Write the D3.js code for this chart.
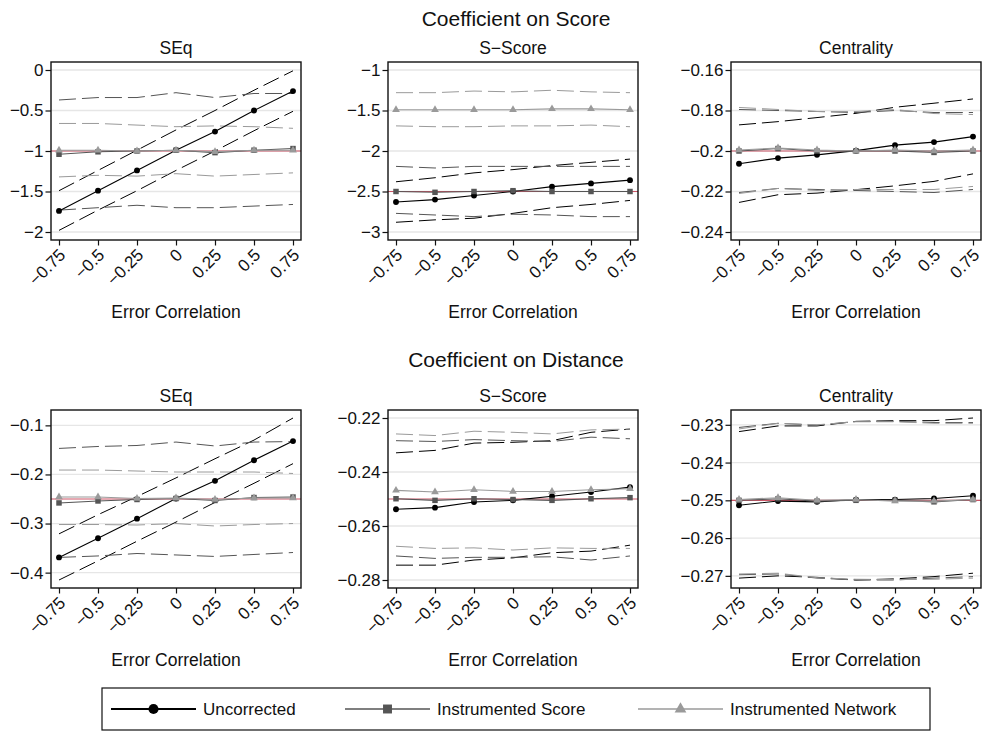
<!DOCTYPE html>
<html>
<head>
<meta charset="utf-8">
<script src="https://cdn.jsdelivr.net/npm/d3@7"></script>
<style>
  body { margin: 0; background: #fff; }
  svg { font-family: "Liberation Sans", Arial, Helvetica, sans-serif; }
</style>
</head>
<body>
<div id="chart"></div>
<script>
// Simulated coefficient estimates against the error correlation.
// Each panel array holds 9 rows, always in this order:
//   uncorrected, its lower bound, its upper bound,
//   instrumented score, lower, upper,
//   instrumented network, lower, upper

var errorCorr = [-0.75, -0.5, -0.25, 0, 0.25, 0.5, 0.75];

var seriesNames = ["Uncorrected", "Instrumented Score", "Instrumented Network"];

var rowTitles = ["Coefficient on Score", "Coefficient on Distance"];
var panelTitles = ["SEq", "S\u2212Score", "Centrality"];

var scoreSEq = [
  [-1.74, -1.49, -1.24, -0.99, -0.76, -0.50, -0.26],
  [-1.98, -1.73, -1.49, -1.24, -1.00, -0.75, -0.51],
  [-1.49, -1.24, -0.99, -0.74, -0.50, -0.25, -0.01],
  [-1.04, -1.01, -1.00, -0.99, -1.02, -0.99, -0.97],
  [-1.73, -1.70, -1.67, -1.70, -1.70, -1.68, -1.66],
  [-0.37, -0.34, -0.34, -0.28, -0.34, -0.29, -0.29],
  [-0.99, -0.99, -1.00, -0.99, -1.01, -0.99, -0.99],
  [-1.32, -1.30, -1.31, -1.28, -1.31, -1.29, -1.27],
  [-0.66, -0.66, -0.68, -0.70, -0.69, -0.70, -0.72]
];

var scoreSScore = [
  [-2.63, -2.60, -2.55, -2.50, -2.44, -2.40, -2.36],
  [-2.88, -2.85, -2.83, -2.77, -2.70, -2.66, -2.61],
  [-2.38, -2.33, -2.27, -2.23, -2.18, -2.14, -2.10],
  [-2.50, -2.51, -2.50, -2.49, -2.50, -2.50, -2.50],
  [-2.77, -2.79, -2.81, -2.78, -2.79, -2.81, -2.81],
  [-2.19, -2.21, -2.19, -2.19, -2.19, -2.19, -2.19],
  [-1.49, -1.49, -1.49, -1.49, -1.48, -1.48, -1.49],
  [-1.69, -1.70, -1.70, -1.69, -1.69, -1.68, -1.70],
  [-1.28, -1.28, -1.26, -1.27, -1.25, -1.27, -1.28]
];

var scoreCentrality = [
  [-0.2063, -0.2035, -0.2019, -0.1998, -0.1971, -0.1956, -0.1929],
  [-0.2254, -0.2216, -0.2208, -0.2191, -0.2172, -0.2150, -0.2113],
  [-0.1871, -0.1855, -0.1835, -0.1814, -0.1784, -0.1764, -0.1743],
  [-0.2000, -0.1988, -0.2000, -0.2000, -0.2000, -0.2007, -0.2000],
  [-0.2205, -0.2185, -0.2190, -0.2195, -0.2200, -0.2205, -0.2190],
  [-0.1795, -0.1800, -0.1805, -0.1810, -0.1800, -0.1810, -0.1810],
  [-0.1995, -0.1985, -0.1995, -0.2000, -0.1995, -0.2000, -0.1995],
  [-0.2210, -0.2185, -0.2195, -0.2190, -0.2190, -0.2190, -0.2175],
  [-0.1785, -0.1795, -0.1805, -0.1805, -0.1795, -0.1815, -0.1820]
];

var distSEq = [
  [-0.369, -0.330, -0.290, -0.249, -0.213, -0.171, -0.132],
  [-0.415, -0.376, -0.336, -0.297, -0.257, -0.218, -0.178],
  [-0.321, -0.282, -0.245, -0.207, -0.168, -0.130, -0.085],
  [-0.258, -0.254, -0.251, -0.249, -0.253, -0.247, -0.246],
  [-0.369, -0.366, -0.361, -0.364, -0.367, -0.363, -0.359],
  [-0.147, -0.143, -0.141, -0.134, -0.142, -0.134, -0.133],
  [-0.246, -0.246, -0.249, -0.248, -0.251, -0.248, -0.248],
  [-0.302, -0.302, -0.303, -0.300, -0.305, -0.302, -0.300],
  [-0.191, -0.191, -0.193, -0.195, -0.195, -0.195, -0.198]
];

var distSScore = [
  [-0.2538, -0.2532, -0.2511, -0.2505, -0.2490, -0.2474, -0.2456],
  [-0.2745, -0.2745, -0.2726, -0.2718, -0.2699, -0.2693, -0.2671],
  [-0.2329, -0.2320, -0.2293, -0.2290, -0.2284, -0.2253, -0.2241],
  [-0.2499, -0.2505, -0.2499, -0.2502, -0.2505, -0.2499, -0.2495],
  [-0.2711, -0.2720, -0.2716, -0.2716, -0.2714, -0.2726, -0.2711],
  [-0.2284, -0.2287, -0.2280, -0.2284, -0.2287, -0.2271, -0.2277],
  [-0.2468, -0.2474, -0.2466, -0.2472, -0.2472, -0.2466, -0.2462],
  [-0.2675, -0.2683, -0.2681, -0.2689, -0.2681, -0.2683, -0.2683],
  [-0.2259, -0.2265, -0.2249, -0.2253, -0.2259, -0.2244, -0.2241]
];

var distCentrality = [
  [-0.2513, -0.2502, -0.2504, -0.2498, -0.2498, -0.2495, -0.2488],
  [-0.2706, -0.2700, -0.2704, -0.2711, -0.2708, -0.2702, -0.2693],
  [-0.2318, -0.2303, -0.2303, -0.2291, -0.2289, -0.2289, -0.2282],
  [-0.2500, -0.2496, -0.2502, -0.2500, -0.2500, -0.2504, -0.2498],
  [-0.2697, -0.2695, -0.2706, -0.2711, -0.2711, -0.2706, -0.2702],
  [-0.2307, -0.2296, -0.2301, -0.2291, -0.2291, -0.2294, -0.2294],
  [-0.2498, -0.2493, -0.2500, -0.2498, -0.2502, -0.2502, -0.2498],
  [-0.2695, -0.2693, -0.2705, -0.2709, -0.2710, -0.2709, -0.2706],
  [-0.2311, -0.2296, -0.2300, -0.2292, -0.2292, -0.2296, -0.2296]
];

var yTicks = [
  [0, -0.5, -1, -1.5, -2],
  [-1, -1.5, -2, -2.5, -3],
  [-0.16, -0.18, -0.2, -0.22, -0.24],
  [-0.1, -0.2, -0.3, -0.4],
  [-0.22, -0.24, -0.26, -0.28],
  [-0.23, -0.24, -0.25, -0.26, -0.27]
];

// true parameter values (red reference lines)
var trueValues = [-1, -2.5, -0.2, -0.25, -0.25, -0.25];

var panelData = [scoreSEq, scoreSScore, scoreCentrality, distSEq, distSScore, distCentrality];

// layout
var width = 983, height = 733;
var boxLefts = [51, 388, 731],
    boxTops = [62, 410],
    boxW = 250,
    boxH = 178,
    inset = 8;

var colors = ["#000000", "#555555", "#9a9a9a"],
    symbols = [d3.symbolCircle, d3.symbolSquare, d3.symbolTriangle],
    symbolSizes = [27, 30, 26];

var svg = d3.select("#chart").append("svg")
    .attr("width", width)
    .attr("height", height);

// row titles
svg.selectAll("text.row-title")
    .data(rowTitles)
  .enter().append("text")
    .attr("class", "row-title")
    .attr("x", 516)
    .attr("y", function(d, i) { return i === 0 ? 26 : 367; })
    .attr("text-anchor", "middle")
    .attr("font-size", 21)
    .attr("fill", "#111")
    .text(function(d) { return d; });

panelData.forEach(function(data, p) {
  var row = Math.floor(p / 3), col = p % 3;
  var left = boxLefts[col], top = boxTops[row];

  var g = svg.append("g")
      .attr("transform", "translate(" + left + "," + top + ")");

  var x = d3.scaleLinear()
      .domain(d3.extent(errorCorr))
      .range([inset, boxW - inset]);

  var yExtent = d3.extent(d3.merge(data).concat(yTicks[p]));
  var y = d3.scaleLinear()
      .domain(yExtent)
      .range([boxH - inset, inset]);

  // gridlines
  g.append("g")
    .selectAll("line")
      .data(yTicks[p])
    .enter().append("line")
      .attr("x1", 0)
      .attr("x2", boxW)
      .attr("y1", function(d) { return y(d); })
      .attr("y2", function(d) { return y(d); })
      .attr("stroke", "#e6e6e6")
      .attr("stroke-width", 1.3);

  var line = d3.line()
      .x(function(d, i) { return x(errorCorr[i]); })
      .y(function(d) { return y(d); });

  // dashed bounds, one pair per series
  [0, 1, 2].forEach(function(s) {
    [1, 2].forEach(function(k) {
      g.append("path")
          .attr("d", line(data[s * 3 + k]))
          .attr("fill", "none")
          .attr("stroke", colors[s])
          .attr("stroke-width", 1)
          .attr("stroke-dasharray", "17,6");
    });
  });

  // true value
  g.append("line")
      .attr("x1", 0)
      .attr("x2", boxW)
      .attr("y1", y(trueValues[p]))
      .attr("y2", y(trueValues[p]))
      .attr("stroke", "#cc5566")
      .attr("stroke-width", 1.2);

  // estimates with markers
  [0, 1, 2].forEach(function(s) {
    g.append("path")
        .attr("d", line(data[s * 3]))
        .attr("fill", "none")
        .attr("stroke", colors[s])
        .attr("stroke-width", 1.1);

    g.append("g")
      .selectAll("path")
        .data(data[s * 3])
      .enter().append("path")
        .attr("transform", function(d, i) { return "translate(" + x(errorCorr[i]) + "," + y(d) + ")"; })
        .attr("d", d3.symbol().type(symbols[s]).size(symbolSizes[s]))
        .attr("fill", colors[s]);
  });

  // frame
  g.append("rect")
      .attr("width", boxW)
      .attr("height", boxH)
      .attr("fill", "none")
      .attr("stroke", "#111")
      .attr("stroke-width", 1.4);

  // y axis
  var yAxis = g.append("g")
      .call(d3.axisLeft(y).tickValues(yTicks[p]).tickSize(5.5).tickPadding(2).tickFormat(d3.format("~g")));
  yAxis.select(".domain").remove();
  yAxis.attr("font-family", null);
  yAxis.selectAll("line").attr("stroke", "#111").attr("stroke-width", 1.2);
  yAxis.selectAll("text")
      .attr("font-size", 17)
      .attr("fill", "#111");

  // x axis
  var xAxis = g.append("g")
      .attr("transform", "translate(0," + boxH + ")")
      .call(d3.axisBottom(x).tickValues(errorCorr).tickSize(5.5).tickFormat(d3.format("~g")));
  xAxis.select(".domain").remove();
  xAxis.attr("font-family", null);
  xAxis.selectAll("line").attr("stroke", "#111").attr("stroke-width", 1.2);
  xAxis.selectAll("text")
      .attr("font-size", 17)
      .attr("fill", "#111")
      .attr("y", null)
      .attr("dy", null)
      .attr("text-anchor", "end")
      .attr("transform", "translate(7,16) rotate(-45)");

  // panel title and axis title
  g.append("text")
      .attr("x", boxW / 2)
      .attr("y", -8.5)
      .attr("text-anchor", "middle")
      .attr("font-size", 17.5)
      .attr("fill", "#111")
      .text(panelTitles[col]);

  g.append("text")
      .attr("x", boxW / 2)
      .attr("y", boxH + 78)
      .attr("text-anchor", "middle")
      .attr("font-size", 17.5)
      .attr("fill", "#111")
      .text("Error Correlation");
});

// legend
var legend = svg.append("g")
    .attr("transform", "translate(102,688)");

legend.append("rect")
    .attr("width", 828)
    .attr("height", 42)
    .attr("fill", "none")
    .attr("stroke", "#111")
    .attr("stroke-width", 1.2);

var itemX = [9, 243, 536];

var items = legend.selectAll("g.item")
    .data(seriesNames)
  .enter().append("g")
    .attr("class", "item")
    .attr("transform", function(d, i) { return "translate(" + itemX[i] + ",21)"; });

items.append("line")
    .attr("x1", 0)
    .attr("x2", 85)
    .attr("stroke", function(d, i) { return colors[i]; })
    .attr("stroke-width", function(d, i) { return i === 0 ? 2 : 1.6; });

items.append("path")
    .attr("transform", "translate(42.5,0)")
    .attr("d", function(d, i) { return d3.symbol().type(symbols[i]).size([80, 80, 60][i])(); })
    .attr("fill", function(d, i) { return colors[i]; });

items.append("text")
    .attr("x", 92)
    .attr("dy", "0.35em")
    .attr("font-size", 17)
    .attr("fill", "#111")
    .text(function(d) { return d; });
</script>
</body>
</html>
